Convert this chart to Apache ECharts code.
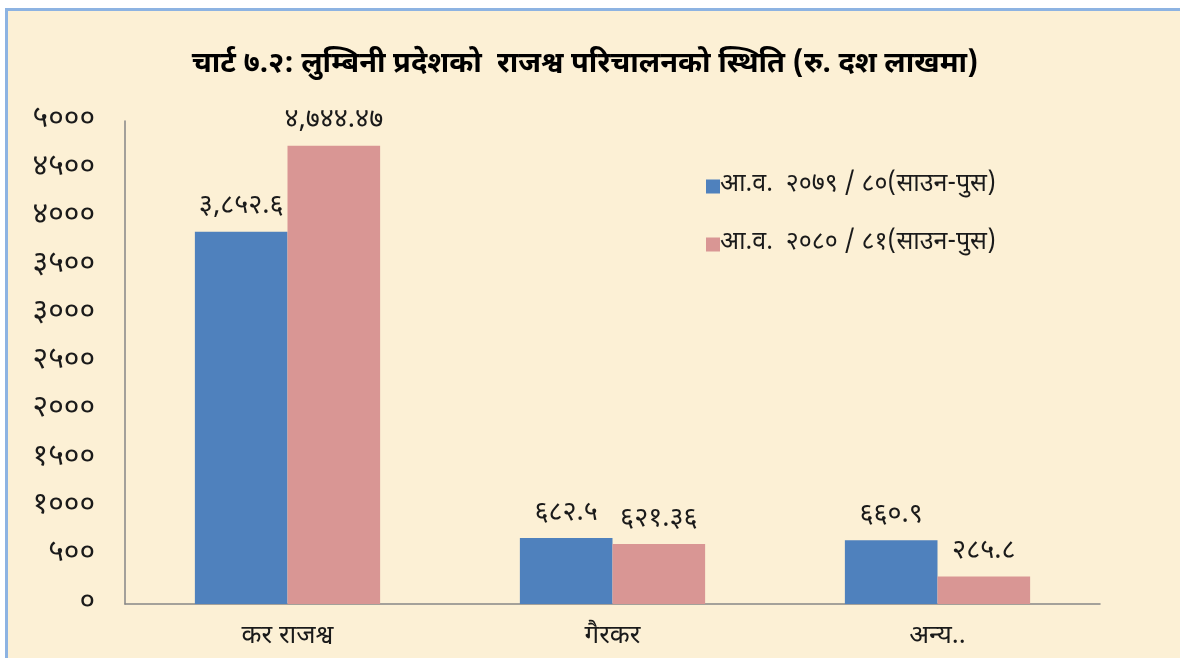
<!DOCTYPE html>
<html>
<head>
<meta charset="utf-8">
<script src="https://cdn.jsdelivr.net/npm/echarts@6/dist/echarts.min.js"></script>
<style>
  html, body { margin: 0; padding: 0; background: #ffffff; }
  #frame {
    position: absolute; left: 5px; top: 8px; width: 1180px; height: 660px;
    border-left: 3px solid #8db3e2; border-top: 3px solid #8db3e2;
    background: #fcf0d5;
  }
  #chart { position: absolute; left: 0; top: 0; width: 1180px; height: 658px; }
</style>
</head>
<body>
<div id="frame"></div>
<div id="chart"></div>
<script>
var categories = ['कर राजश्व', 'गैरकर', 'अन्य..'];
var series1Name = 'आ.व.  २०७९ / ८०(साउन-पुस)';
var series2Name = 'आ.व.  २०८० / ८१(साउन-पुस)';
var series1 = [3852.6, 682.5, 660.9];
var series2 = [4744.47, 621.36, 285.8];
var yTicks = { min: 0, max: 5000, interval: 500 };

var titleText = 'चार्ट ७.२: लुम्बिनी प्रदेशको  राजश्व परिचालनको स्थिति (रु. दश लाखमा)';
var font = "'Noto Sans Devanagari', 'Noto Sans', sans-serif";

// अंकलाई देवनागरीमा
function toNep(str) {
    var d = '०१२३४५६७८९';
    return String(str).replace(/[0-9]/g, function (c) { return d[+c]; });
}
function fmtLabel(v) {
    var parts = String(v).split('.');
    parts[0] = parts[0].replace(/\B(?=(\d{3})+(?!\d))/g, ',');
    return toNep(parts.join('.'));
}

var myChart = echarts.init(document.getElementById('chart'));

var labelStyle = {
    show: true,
    position: 'top',
    distance: 10,
    fontFamily: font,
    fontSize: 27,
    color: '#1a1a1a',
    formatter: function (p) { return fmtLabel(p.value); }
};

var option = {
    backgroundColor: 'transparent',
    title: {
        text: titleText,
        left: 580,
        textAlign: 'center',
        top: 47,
        textStyle: { fontFamily: font, fontSize: 29, fontWeight: 'bold', color: '#000' }
    },
    legend: {
        orient: 'vertical',
        left: 701,
        top: 169,
        itemGap: 33,
        itemWidth: 14,
        itemHeight: 14,
        icon: 'rect',
        textStyle: { fontFamily: font, fontSize: 25, color: '#1a1a1a', padding: [0, 0, 0, -5] },
        data: [series1Name, series2Name]
    },
    grid: {
        left: 125,
        right: 80,
        top: 121,
        bottom: 54
    },
    xAxis: {
        type: 'category',
        data: categories,
        axisTick: { show: false },
        axisLine: { lineStyle: { color: '#868686', width: 1.5 } },
        axisLabel: { fontFamily: font, fontSize: 26, color: '#1a1a1a', margin: 21 }
    },
    yAxis: {
        type: 'value',
        min: yTicks.min,
        max: yTicks.max,
        interval: yTicks.interval,
        axisLine: { show: true, lineStyle: { color: '#868686', width: 1.5 } },
        axisTick: { show: false },
        splitLine: { show: false },
        axisLabel: {
            fontFamily: font, fontSize: 30, color: '#1a1a1a', margin: 30,
            padding: [5, 0, 0, 0],
            formatter: function (v) { return toNep(v); }
        }
    },
    series: [
        {
            name: series1Name,
            type: 'bar',
            barGap: '0%',
            barCategoryGap: '43%',
            itemStyle: { color: '#4f81bd' },
            label: labelStyle,
            data: series1
        },
        {
            name: series2Name,
            type: 'bar',
            itemStyle: { color: '#d99694' },
            label: labelStyle,
            data: series2
        }
    ]
};

myChart.setOption(option);
</script>
</body>
</html>
